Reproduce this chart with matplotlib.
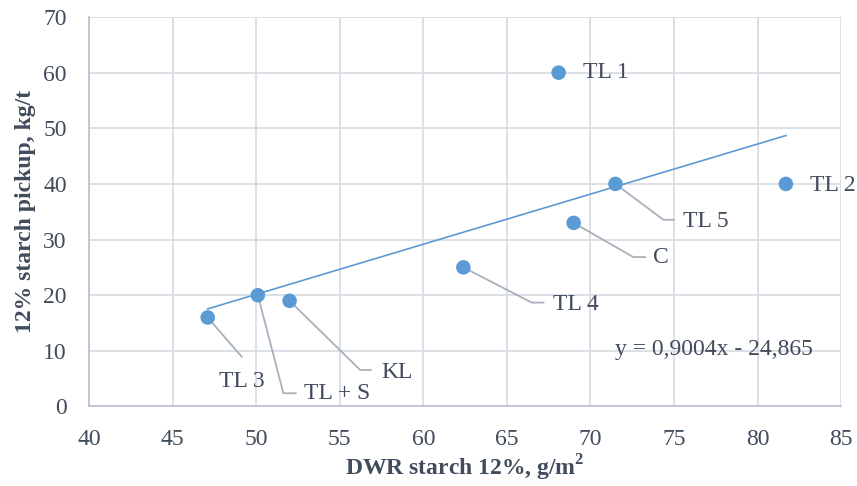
import matplotlib
matplotlib.use("Agg")
import matplotlib.pyplot as plt
import numpy as np

# Samples: DWR starch 12% (g/m2) vs 12% starch pickup (kg/t)
names = ["TL 1", "TL 2", "TL 5", "C", "TL 4", "TL + S", "KL", "TL 3"]
dwr = [68.1, 81.7, 71.5, 69.0, 62.4, 50.1, 52.0, 47.1]
pickup = [60, 40, 40, 33, 25, 20, 19, 16]

# Linear trend line
slope, intercept = 0.9004, -24.865

BLUE = "#5B9BD5"
TEXT = "#404B5C"
GRID = "#D9DDE5"
LEADER = "#A9B0BB"
FS = 17

plt.rcParams["font.family"] = ["Liberation Serif", "DejaVu Serif"]

fig = plt.figure(figsize=(8.57, 4.86), dpi=100)
ax = fig.add_axes([0.1039, 0.1636, 0.8775, 0.8014])

ax.set_xlim(40, 85)
ax.set_ylim(0, 70)
ax.set_xticks(np.arange(40, 86, 5))
ax.set_yticks(np.arange(0, 71, 10))
ax.grid(True, color=GRID, linewidth=1.3)
ax.set_axisbelow(True)
for side in ("top", "right"):
    ax.spines[side].set_visible(False)
for side in ("left", "bottom"):
    ax.spines[side].set_color("#BCC3CF")
    ax.spines[side].set_linewidth(1.3)
ax.tick_params(length=0, labelsize=FS, colors=TEXT)
ax.tick_params(axis="y", pad=16)
ax.tick_params(axis="x", pad=16)

# Trend line over the data range
xs = np.array([min(dwr), max(dwr)])
ax.plot(xs, slope * xs + intercept, color=BLUE, linewidth=1.2, zorder=3)

ax.scatter(dwr, pickup, s=110, color=BLUE, zorder=5, edgecolors="none")

# Label placement: (text x, text y, ha, elbow points of leader line or None)
label_layout = {
    "TL 1": (69.55, 60.0, "left", None),
    "TL 2": (83.15, 39.7, "left", None),
    "TL 5": (75.55, 33.3, "left", [(74.37, 33.56), (75.0, 33.56)]),
    "C": (73.75, 26.7, "left", [(72.57, 26.85), (73.27, 26.85)]),
    "TL 4": (67.75, 18.4, "left", [(66.49, 18.68), (67.19, 18.68)]),
    "TL + S": (52.87, 2.3, "left", [(51.63, 2.38), (52.37, 2.38)]),
    "KL": (57.47, 6.1, "left", [(56.22, 6.57), (56.86, 6.57)]),
    "TL 3": (49.16, 4.5, "center", [(49.13, 8.96)]),
}

for name, x, y in zip(names, dwr, pickup):
    tx, ty, ha, leader = label_layout[name]
    if leader:
        lx = [x] + [p[0] for p in leader]
        ly = [y] + [p[1] for p in leader]
        ax.plot(lx, ly, color=LEADER, linewidth=1.3, zorder=4)
    ax.text(tx, ty, name, ha=ha, va="center", fontsize=FS, color=TEXT, zorder=6)

ax.text(71.48, 10.2, "y = 0,9004x - 24,865", ha="left", va="center",
        fontsize=FS, color=TEXT)

ax.set_xlabel("DWR starch 12%, g/m$^\\mathregular{2}$", fontsize=FS,
              fontweight="bold", color=TEXT, labelpad=2)
ax.set_ylabel("12% starch pickup, kg/t", fontsize=FS, fontweight="bold",
              color=TEXT, labelpad=5)

fig.savefig("out.png", dpi=100)
